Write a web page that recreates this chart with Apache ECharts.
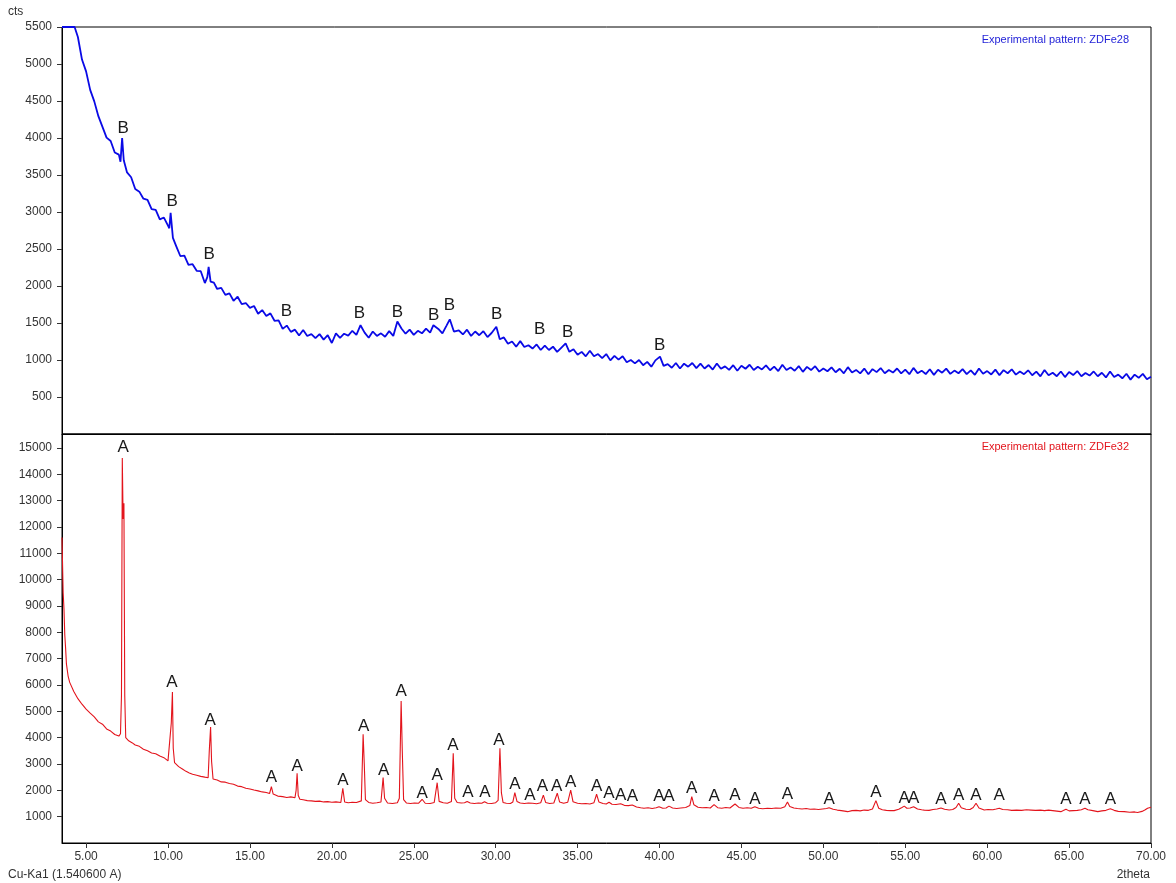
<!DOCTYPE html>
<html>
<head>
<meta charset="utf-8">
<script src="https://cdn.jsdelivr.net/npm/echarts@6/dist/echarts.min.js"></script>
<style>
html,body{margin:0;padding:0;background:#fff;}
#chart{width:1176px;height:883px;}
</style>
</head>
<body>
<div id="chart"></div>
<script>
// ---- data (2theta, counts) ----
const xTickValues = [5,10,15,20,25,30,35,40,45,50,55,60,65,70];
const yTicksTop = [500,1000,1500,2000,2500,3000,3500,4000,4500,5000,5500];
const yTicksBottom = [1000,2000,3000,4000,5000,6000,7000,8000,9000,10000,11000,12000,13000,14000,15000];

const zdfe28 = [
[3.53,5500],[3.75,5500],[4.00,5500],[4.30,5500],[4.50,5365],[4.75,5060],[5.00,4900],[5.25,4650],[5.50,4495],[5.75,4295],
[6.00,4150],[6.25,4005],[6.50,3960],[6.75,3805],[7.00,3775],[7.10,3680],[7.20,4000],[7.30,3700],[7.50,3535],[7.75,3470],
[8.00,3310],[8.25,3275],[8.50,3180],[8.75,3165],[9.00,3040],[9.25,3030],[9.50,2900],[9.75,2925],[10.00,2815],[10.08,2780],
[10.16,2990],[10.30,2650],[10.50,2540],[10.75,2405],[11.00,2410],[11.25,2285],[11.50,2295],[11.75,2205],[12.00,2200],[12.25,2040],
[12.40,2120],[12.48,2260],[12.60,2060],[12.80,2045],[13.00,1960],[13.25,1975],[13.50,1880],[13.75,1900],[14.00,1800],[14.25,1855],
[14.50,1755],[14.75,1770],[15.00,1705],[15.25,1730],[15.50,1625],[15.75,1675],[16.00,1595],[16.25,1630],[16.50,1530],[16.75,1535],
[17.00,1420],[17.25,1465],[17.50,1380],[17.75,1410],[18.00,1330],[18.25,1405],[18.50,1325],[18.75,1350],[19.00,1295],[19.25,1350],
[19.50,1275],[19.75,1335],[20.00,1230],[20.25,1360],[20.50,1300],[20.75,1355],[21.00,1330],[21.25,1395],[21.50,1340],[21.75,1470],
[22.00,1370],[22.25,1300],[22.50,1385],[22.75,1325],[23.00,1360],[23.25,1315],[23.50,1390],[23.75,1325],[24.00,1520],[24.25,1425],
[24.50,1355],[24.75,1410],[25.00,1340],[25.25,1395],[25.50,1360],[25.75,1425],[26.00,1370],[26.20,1470],[26.50,1420],[26.75,1360],
[27.00,1465],[27.20,1550],[27.45,1385],[27.75,1400],[28.00,1345],[28.25,1410],[28.50,1325],[28.75,1385],[29.00,1335],[29.25,1390],
[29.50,1310],[29.75,1365],[30.04,1450],[30.25,1280],[30.50,1305],[30.75,1220],[31.00,1250],[31.25,1180],[31.50,1255],[31.75,1175],
[32.00,1200],[32.25,1155],[32.50,1210],[32.75,1135],[33.00,1195],[33.25,1135],[33.50,1180],[33.75,1110],[34.00,1165],[34.27,1225],
[34.50,1110],[34.75,1145],[35.00,1070],[35.25,1110],[35.50,1050],[35.75,1125],[36.00,1050],[36.25,1080],[36.50,1025],[36.75,1080],
[37.00,995],[37.25,1055],[37.50,1005],[37.75,1050],[38.00,970],[38.25,1000],[38.50,955],[38.75,1000],[39.00,930],[39.25,975],
[39.50,910],[39.75,995],[40.03,1045],[40.25,920],[40.50,945],[40.75,895],[41.00,960],[41.25,885],[41.50,950],[41.75,910],
[42.00,960],[42.25,890],[42.50,950],[42.75,885],[43.00,932],[43.25,870],[43.50,953],[43.75,881],[44.00,914],[44.25,867],
[44.50,930],[44.75,854],[45.00,923],[45.25,882],[45.50,936],[45.75,865],[46.00,909],[46.25,873],[46.50,927],[46.75,861],
[47.00,910],[47.25,850],[47.50,935],[47.75,865],[48.00,900],[48.25,855],[48.50,918],[48.75,840],[49.00,907],[49.25,864],
[49.50,916],[49.75,843],[50.00,885],[50.25,848],[50.50,901],[50.75,834],[51.00,882],[51.25,820],[51.50,903],[51.75,832],
[52.00,866],[52.25,820],[52.50,884],[52.75,808],[53.00,877],[53.25,836],[53.50,891],[53.75,820],[54.00,865],[54.25,830],
[54.50,885],[54.75,820],[55.00,869],[55.25,809],[55.50,893],[55.75,822],[56.00,856],[56.25,810],[56.50,875],[56.75,799],
[57.00,869],[57.25,828],[57.50,883],[57.75,812],[58.00,857],[58.25,821],[58.50,876],[58.75,810],[59.00,860],[59.25,800],
[59.50,885],[59.75,815],[60.00,850],[60.25,805],[60.50,870],[60.75,795],[61.00,863],[61.25,821],[61.50,874],[61.75,802],
[62.00,845],[62.25,808],[62.50,861],[62.75,794],[63.00,842],[63.25,780],[63.50,864],[63.75,793],[64.00,827],[64.25,781],
[64.50,845],[64.75,769],[65.00,838],[65.25,797],[65.50,851],[65.75,780],[66.00,825],[66.25,790],[66.50,845],[66.75,780],
[67.00,828],[67.25,765],[67.50,845],[67.75,771],[68.00,802],[68.25,753],[68.50,814],[68.75,735],[69.00,802],[69.25,759],
[69.50,812],[69.75,740],[70.00,775]
];

const zdfe32 = [
[3.53,11600],[3.56,10700],[3.60,9500],[3.65,8900],[3.70,7900],[3.75,7400],[3.80,6800],[3.90,6350],[4.00,6100],[4.25,5750],
[4.50,5480],[4.75,5270],[5.00,5080],[5.25,4930],[5.50,4790],[5.75,4600],[6.00,4510],[6.25,4330],[6.50,4250],[6.75,4120],
[7.00,4060],[7.10,4150],[7.16,5600],[7.21,14620],[7.26,12300],[7.31,12900],[7.36,5600],[7.42,4000],[7.60,3880],[7.80,3810],
[8.00,3720],[8.25,3670],[8.50,3560],[8.75,3500],[9.00,3420],[9.25,3390],[9.50,3300],[9.75,3240],[10.00,3120],[10.12,3150],
[10.20,4550],[10.27,5730],[10.32,3600],[10.40,3050],[10.65,2900],[10.90,2800],[11.10,2720],[11.30,2660],[11.50,2610],[11.75,2570],
[12.00,2530],[12.25,2500],[12.45,2480],[12.52,3500],[12.60,4400],[12.66,3100],[12.75,2430],[13.00,2390],[13.25,2320],[13.50,2310],
[13.75,2260],[14.00,2230],[14.25,2160],[14.50,2140],[14.75,2080],[15.00,2050],[15.25,2010],[15.50,1980],[15.75,1940],[16.00,1920],
[16.20,1880],[16.31,2140],[16.42,1860],[16.70,1780],[17.00,1760],[17.25,1730],[17.50,1750],[17.75,1720],[17.82,2000],[17.88,2650],
[17.95,1800],[18.05,1660],[18.25,1640],[18.50,1610],[18.75,1600],[19.00,1580],[19.25,1590],[19.50,1560],[19.75,1570],[20.00,1550],
[20.25,1560],[20.55,1540],[20.67,2080],[20.78,1560],[21.00,1530],[21.25,1550],[21.50,1540],[21.80,1600],[21.91,4130],[21.98,3000],
[22.05,1650],[22.25,1540],[22.50,1510],[22.75,1530],[23.00,1560],[23.13,2490],[23.22,1700],[23.40,1520],[23.70,1500],[24.00,1530],
[24.12,1700],[24.23,5390],[24.30,3500],[24.38,1650],[24.55,1520],[24.80,1500],[25.05,1520],[25.30,1510],[25.51,1660],[25.70,1510],
[26.00,1500],[26.25,1540],[26.43,2290],[26.55,1580],[26.80,1530],[27.05,1510],[27.30,1580],[27.41,3410],[27.50,1700],[27.65,1540],
[27.90,1520],[28.10,1530],[28.26,1580],[28.45,1520],[28.70,1500],[28.95,1520],[29.15,1510],[29.32,1570],[29.50,1510],[29.75,1500],
[30.00,1530],[30.15,1620],[30.26,3600],[30.35,1900],[30.45,1540],[30.65,1510],[30.90,1500],[31.05,1560],[31.17,1910],[31.30,1580],
[31.50,1520],[31.75,1500],[32.00,1520],[32.09,1570],[32.25,1510],[32.50,1490],[32.75,1530],[32.91,1820],[33.05,1540],[33.30,1500],
[33.55,1520],[33.76,1890],[33.90,1560],[34.15,1510],[34.40,1550],[34.58,2010],[34.72,1570],[35.00,1510],[35.25,1490],[35.50,1500],
[35.75,1480],[36.00,1530],[36.16,1850],[36.30,1560],[36.55,1500],[36.75,1480],[36.92,1550],[37.10,1470],[37.35,1460],[37.63,1490],
[37.85,1430],[38.10,1420],[38.34,1440],[38.60,1370],[38.85,1340],[39.05,1320],[39.30,1340],[39.55,1310],[39.80,1340],[39.97,1380],
[40.20,1320],[40.40,1330],[40.58,1400],[40.80,1330],[41.05,1310],[41.30,1330],[41.60,1350],[41.85,1420],[41.97,1760],[42.10,1450],
[42.35,1360],[42.60,1340],[42.85,1350],[43.10,1330],[43.33,1460],[43.55,1340],[43.80,1320],[44.05,1350],[44.30,1330],[44.61,1480],
[44.85,1350],[45.10,1320],[45.35,1340],[45.60,1320],[45.82,1380],[46.05,1320],[46.30,1300],[46.59,1320],[46.85,1310],[47.10,1330],
[47.40,1320],[47.65,1380],[47.81,1560],[47.95,1390],[48.20,1330],[48.42,1310],[48.70,1290],[48.95,1310],[49.20,1280],[49.44,1290],
[49.70,1270],[49.95,1290],[50.20,1310],[50.35,1340],[50.60,1280],[50.85,1250],[51.10,1230],[51.30,1210],[51.48,1190],[51.75,1230],
[52.00,1240],[52.25,1220],[52.49,1250],[52.75,1240],[53.00,1290],[53.21,1610],[53.38,1320],[53.60,1260],[53.85,1240],[54.10,1230],
[54.32,1230],[54.60,1280],[54.80,1350],[54.94,1400],[55.10,1320],[55.30,1330],[55.51,1380],[55.75,1290],[56.00,1260],[56.16,1250],
[56.45,1240],[56.70,1270],[56.95,1290],[57.18,1330],[57.40,1280],[57.68,1250],[57.90,1270],[58.10,1350],[58.26,1510],[58.42,1340],
[58.70,1280],[58.95,1270],[59.15,1350],[59.32,1510],[59.50,1330],[59.82,1250],[60.05,1270],[60.35,1260],[60.55,1290],[60.74,1320],
[60.95,1270],[61.25,1260],[61.50,1240],[61.80,1250],[62.10,1240],[62.40,1260],[62.68,1250],[62.95,1240],[63.25,1250],[63.50,1230],
[63.75,1250],[64.00,1230],[64.25,1210],[64.50,1190],[64.65,1230],[64.81,1280],[65.00,1220],[65.25,1230],[65.50,1240],[65.75,1260],
[65.97,1320],[66.15,1260],[66.45,1230],[66.75,1190],[67.00,1220],[67.25,1240],[67.52,1300],[67.75,1240],[68.00,1200],[68.37,1190],
[68.70,1170],[69.00,1180],[69.18,1160],[69.45,1200],[69.65,1260],[69.79,1320],[70.00,1360]
];

// phase marker labels: [2theta, counts at label centre]
const peakLabelsB = [
[7.27,4130],[10.26,3150],[12.52,2430],[17.23,1660],[21.69,1630],[24.01,1650],
[26.21,1610],[27.18,1740],[30.06,1620],[32.68,1420],[34.39,1380],[40.01,1200]
];
const peakLabelsA = [
[7.27,15040],[10.24,6090],[12.58,4670],[16.31,2480],[17.88,2920],[20.67,2370],[21.95,4420],
[23.17,2750],[24.23,5750],[25.52,1890],[26.43,2580],[27.39,3720],[28.30,1910],[29.34,1910],
[30.20,3910],[31.17,2230],[32.09,1820],[32.85,2140],[33.72,2140],[34.58,2290],[36.16,2160],
[36.92,1890],[37.63,1820],[38.34,1790],[39.97,1760],[40.58,1760],[41.97,2080],[43.33,1760],
[44.61,1820],[45.82,1660],[47.81,1860],[50.35,1660],[53.21,1910],[54.94,1700],[55.51,1700],
[57.18,1660],[58.26,1820],[59.32,1820],[60.74,1820],[64.81,1660],[65.97,1660],[67.52,1660]
];

const seriesNames = ['Experimental pattern: ZDFe28', 'Experimental pattern: ZDFe32'];

// ---- chart ----
const FONT = "'Liberation Sans', Arial, sans-serif";
const chart = echarts.init(document.getElementById('chart'), null, {renderer: 'canvas'});
const xMin = 3.53, xMax = 70;

function yAxisCfg(gridIndex, max, ticks) {
  return {
    type: 'value', gridIndex: gridIndex, min: 0, max: max,
    axisLine: {show: true, lineStyle: {color: '#000', width: 1}},
    axisTick: {show: true, inside: false, length: 5, lineStyle: {color: '#333'}, customValues: ticks},
    axisLabel: {show: true, customValues: ticks, color: '#333', fontSize: 12, fontFamily: FONT, margin: 10,
                formatter: v => String(Math.round(v))},
    splitLine: {show: false}
  };
}

function labelSeries(axisIdx, data, letter) {
  return {
    type: 'scatter', xAxisIndex: axisIdx, yAxisIndex: axisIdx, data: data,
    symbol: 'circle', symbolSize: 1, silent: true, z: 5,
    itemStyle: {color: 'rgba(255,255,255,0)'},
    label: {show: true, position: 'inside', formatter: letter, color: '#1a1a1a', opacity: 1,
            fontSize: 17, fontFamily: FONT},
    labelLayout: {hideOverlap: false}
  };
}

const option = {
  animation: false,
  backgroundColor: '#fff',
  grid: [
    {left: 62, right: 25, top: 27, height: 407, show: true, borderColor: '#000', borderWidth: 1},
    {left: 62, right: 25, top: 434, height: 409, show: true, borderColor: '#000', borderWidth: 1}
  ],
  xAxis: [
    {type: 'value', gridIndex: 0, min: xMin, max: xMax,
     axisLine: {show: true, lineStyle: {color: '#000'}}, axisTick: {show: false},
     axisLabel: {show: false}, splitLine: {show: false}},
    {type: 'value', gridIndex: 1, min: xMin, max: xMax,
     axisLine: {show: true, lineStyle: {color: '#000'}},
     axisTick: {show: true, inside: false, length: 5, lineStyle: {color: '#333'}, customValues: xTickValues},
     axisLabel: {show: true, customValues: xTickValues, color: '#333', fontSize: 12, fontFamily: FONT, margin: 8,
                 formatter: v => v.toFixed(2)},
     splitLine: {show: false}}
  ],
  yAxis: [
    yAxisCfg(0, 5500, yTicksTop),
    yAxisCfg(1, 15530, yTicksBottom)
  ],
  series: [
    {name: seriesNames[0], type: 'line', xAxisIndex: 0, yAxisIndex: 0, data: zdfe28,
     showSymbol: false, symbol: 'none', lineStyle: {color: '#0a0ae6', width: 1.8}, z: 3},
    labelSeries(0, peakLabelsB, 'B'),
    {name: seriesNames[1], type: 'line', xAxisIndex: 1, yAxisIndex: 1, data: zdfe32,
     showSymbol: false, symbol: 'none', lineStyle: {color: '#e3141c', width: 1.1}, z: 3},
    labelSeries(1, peakLabelsA, 'A')
  ],
  graphic: [
    {type: 'text', left: 8, top: 6, style: {text: 'cts', fill: '#333', font: '12px ' + FONT}},
    {type: 'text', left: 8, top: 869, style: {text: 'Cu-Ka1 (1.540600 A)', fill: '#333', font: '12px ' + FONT}},
    {type: 'text', right: 26, top: 869, style: {text: '2theta', fill: '#333', font: '12px ' + FONT}},
    {type: 'text', right: 47, top: 34, style: {text: seriesNames[0], fill: '#2424d8', font: '11px ' + FONT}},
    {type: 'text', right: 47, top: 441, style: {text: seriesNames[1], fill: '#e3141c', font: '11px ' + FONT}}
  ]
};
chart.setOption(option);
</script>
</body>
</html>
